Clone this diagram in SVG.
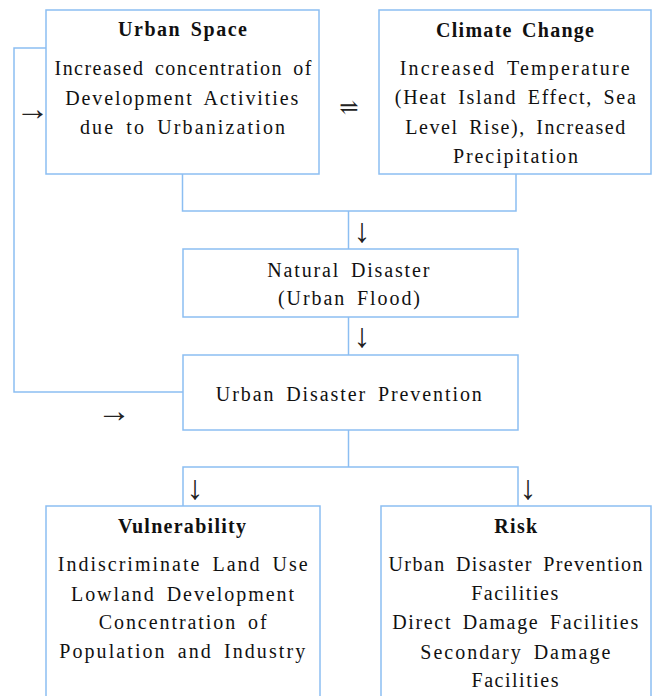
<svg xmlns="http://www.w3.org/2000/svg" width="653" height="696" viewBox="0 0 653 696">
<style>
.box{fill:#fff;stroke:#8cbef2;stroke-width:1.5}
.ln{fill:none;stroke:#8cbef2;stroke-width:1.5}
.tx{font-size:20px;fill:#111;text-anchor:middle;word-spacing:4px}
.t{font-weight:bold;word-spacing:3px}
.ar{font-size:34px;fill:#222;text-anchor:middle}
.eq{font-size:23px}
</style>
<rect width="653" height="696" fill="#fff"/>
<g id="connectors">
<polyline class="ln" points="46,48 14,48 14,392 183,392"/>
<polyline class="ln" points="182.5,174 182.5,211 516,211 516,174"/>
<line class="ln" x1="348.5" y1="211" x2="348.5" y2="249"/>
<line class="ln" x1="348.5" y1="317" x2="348.5" y2="355"/>
<line class="ln" x1="348.5" y1="430" x2="348.5" y2="467"/>
<polyline class="ln" points="183,506 183,467 518,467 518,506"/>
<g font-family="Liberation Serif, DejaVu Serif, serif">
<text class="ar" x="32.5" y="120">→</text>
<text class="ar eq" x="349" y="115">⇌</text>
<text class="ar" x="362" y="242">↓</text>
<text class="ar" x="362" y="347">↓</text>
<text class="ar" x="114" y="421.5">→</text>
<text class="ar" x="195" y="498.5">↓</text>
<text class="ar" x="528" y="498.5">↓</text>
</g>
</g>
<g font-family="Liberation Serif, DejaVu Serif, serif">
<g id="urban-space">
<rect class="box" x="46" y="10" width="273" height="164"/>
<text class="tx t" x="182.5" y="36" textLength="129" lengthAdjust="spacing">Urban Space</text>
<text class="tx" x="183" y="75" textLength="257" lengthAdjust="spacing">Increased concentration of</text>
<text class="tx" x="181.7" y="104.5" textLength="233" lengthAdjust="spacing">Development Activities</text>
<text class="tx" x="182.5" y="134" textLength="205" lengthAdjust="spacing">due to Urbanization</text>
</g>
<g id="climate-change">
<rect class="box" x="379" y="10" width="272" height="164"/>
<text class="tx t" x="515" y="36.5" textLength="158" lengthAdjust="spacing">Climate Change</text>
<text class="tx" x="514.7" y="75" textLength="230" lengthAdjust="spacing">Increased Temperature</text>
<text class="tx" x="515.3" y="104.3" textLength="241" lengthAdjust="spacing">(Heat Island Effect, Sea</text>
<text class="tx" x="515.3" y="134" textLength="220" lengthAdjust="spacing">Level Rise), Increased</text>
<text class="tx" x="515.5" y="163.3" textLength="125" lengthAdjust="spacing">Precipitation</text>
</g>
<g id="natural-disaster">
<rect class="box" x="183" y="249" width="335" height="68"/>
<text class="tx" x="348.3" y="277.3" textLength="162" lengthAdjust="spacing">Natural Disaster</text>
<text class="tx" x="349" y="305" textLength="142" lengthAdjust="spacing">(Urban Flood)</text>
</g>
<g id="urban-disaster-prevention">
<rect class="box" x="183" y="355" width="335" height="75"/>
<text class="tx" x="348.8" y="400.7" textLength="266" lengthAdjust="spacing">Urban Disaster Prevention</text>
</g>
<g id="vulnerability">
<rect class="box" x="46" y="506" width="274" height="200"/>
<text class="tx t" x="182" y="533.3" textLength="128" lengthAdjust="spacing">Vulnerability</text>
<text class="tx" x="182.7" y="571" textLength="250" lengthAdjust="spacing">Indiscriminate Land Use</text>
<text class="tx" x="182.5" y="600.7" textLength="223" lengthAdjust="spacing">Lowland Development</text>
<text class="tx" x="182.7" y="629.3" textLength="168" lengthAdjust="spacing">Concentration of</text>
<text class="tx" x="182.2" y="658.3" textLength="246" lengthAdjust="spacing">Population and Industry</text>
</g>
<g id="risk">
<rect class="box" x="381" y="506" width="270" height="200"/>
<text class="tx t" x="515.7" y="532.7" textLength="43" lengthAdjust="spacing">Risk</text>
<text class="tx" x="515.5" y="570.7" textLength="254" lengthAdjust="spacing">Urban Disaster Prevention</text>
<text class="tx" x="514.7" y="599.7" textLength="87" lengthAdjust="spacing">Facilities</text>
<text class="tx" x="515.2" y="629.3" textLength="246" lengthAdjust="spacing">Direct Damage Facilities</text>
<text class="tx" x="515.3" y="658.7" textLength="190" lengthAdjust="spacing">Secondary Damage</text>
<text class="tx" x="515" y="686.7" textLength="87" lengthAdjust="spacing">Facilities</text>
</g>
</g>
</svg>
